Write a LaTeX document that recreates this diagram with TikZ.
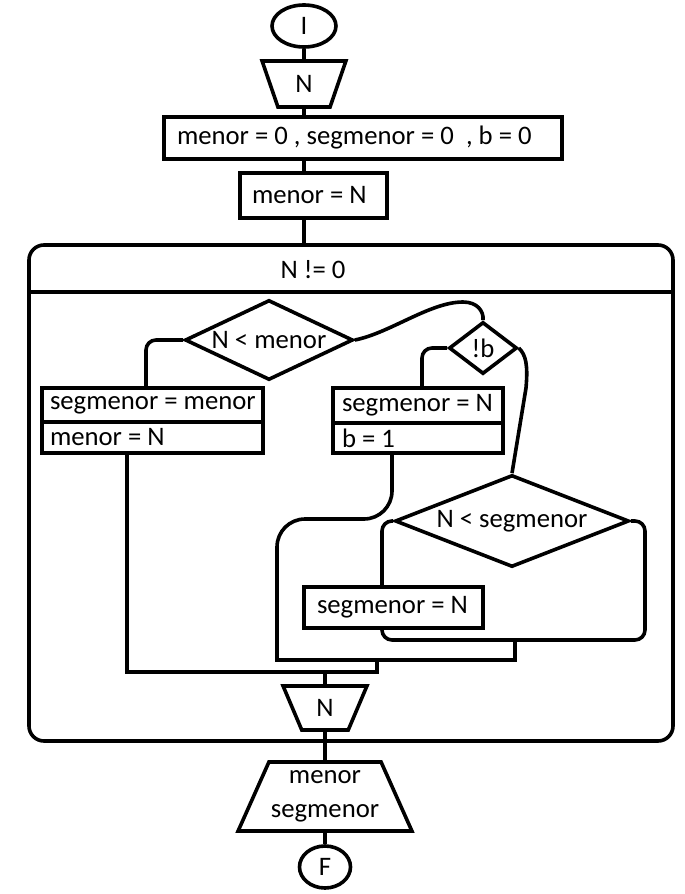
\documentclass[tikz,border=0pt]{standalone}
\usepackage{fontspec}
\setmainfont{Carlito}
\usetikzlibrary{shapes.geometric}
\newcommand{\izq}[2]{\makebox[#1][l]{#2}}
\begin{document}
\begin{tikzpicture}[x=1pt,y=-1pt,line width=3.6pt,
    every node/.style={font=\fontsize{26.7}{34}\selectfont, inner sep=0pt},
    term/.style={draw, ellipse},
    box/.style={draw, rectangle},
    cond/.style={draw, diamond},
    io/.style={draw, trapezium, trapezium stretches, align=center}]
    \useasboundingbox (0,0) rectangle (685,894);
    \node[term, minimum width=64pt, minimum height=42pt] (ini) at (304,26) {I};
    \node[io, shape border rotate=180, trapezium angle=73, minimum width=84pt, minimum height=46pt] (leeN) at (304,84) {N};
    \node[box, inner xsep=13pt, minimum height=42pt] (inic) at (363,138) {\izq{372pt}{menor = 0 , segmenor = 0 \ , b = 0}};
    \node[box, inner xsep=12pt, minimum height=45pt] (asig) at (313.5,195.5) {\izq{123pt}{menor = N}};
    \node[draw, rounded corners=15pt, minimum width=644pt, minimum height=496pt] (mientras) at (351,493) {};
    \node (cab) at (313,270) {N != 0};
    \coordinate (sep) at (351,292);
    \node[cond, aspect=2.1, minimum width=168pt, minimum height=80pt] (si1) at (269,340) {N < menor};
    \node[cond, minimum width=68pt, minimum height=52pt] (si2) at (483,348) {!b};
    \node[box, inner xsep=8pt, minimum height=34pt] (seg1) at (152.5,405) {\izq{205pt}{segmenor = menor}};
    \node[box, inner xsep=8pt, minimum height=31pt] (men1) at (152.5,437.5) {\izq{205pt}{menor = N}};
    \node[box, inner xsep=9pt, minimum height=35pt] (seg2) at (418,405.5) {\izq{152pt}{segmenor = N}};
    \node[box, inner xsep=9pt, minimum height=30pt] (bee) at (418,438) {\izq{152pt}{b = 1}};
    \node[cond, aspect=2.5, minimum width=234pt, minimum height=92pt] (si3) at (512,521) {N < segmenor};
    \node[box, inner xsep=13pt, minimum height=41pt] (seg3) at (393.5,607.5) {\izq{153pt}{segmenor = N}};
    \node[io, shape border rotate=180, trapezium angle=68, minimum width=84pt, minimum height=44pt] (leeN2) at (325,708) {N};
    \node[io, trapezium angle=60, minimum width=174pt, minimum height=69pt] (sal) at (325,796.5) {menor\\segmenor};
    \node[term, minimum width=51pt, minimum height=42pt] (fin) at (325,867) {F};
    \coordinate (col) at (304,0);
    \coordinate (j0) at (377,660);
    \coordinate (j1) at (377,672);
    \coordinate (j2) at (515,660);
    \coordinate (j3) at (515,640);
    \draw (ini) -- (leeN);
    \draw (leeN) -- (leeN |- inic.north);
    \draw (col |- inic.south) -- (col |- asig.north);
    \draw (col |- asig.south) -- (col |- mientras.north);
    \draw (sep -| mientras.west) -- (sep -| mientras.east);
    \draw[rounded corners=10pt] (si1.west) -| ([xshift=-6.5pt]seg1.north);
    \draw (si1.east) .. controls (390,333) and (430,302) .. (463,302) .. controls (477,302) and (484,311) .. (si2.north);
    \draw[rounded corners=10pt] (si2.west) -| ([xshift=4pt]seg2.north);
    \draw (si2.east) .. controls (526,355) and (528,365) .. (526,388) -- (si3.north);
    \draw[rounded corners=10pt] (si3.west) -| ([xshift=-11.5pt]seg3.north);
    \draw[rounded corners=10pt] (si3.east) -| (645,640) -| ([xshift=-11.5pt]seg3.south);
    \draw[rounded corners=28pt] ([xshift=-26pt]bee.south) |- (277,519) [sharp corners] |- (j2) -- (j3);
    \draw ([xshift=-25.5pt]men1.south) |- (j1) -- (j0);
    \draw (leeN2 |- j1) -- (leeN2);
    \draw (leeN2) -- (leeN2 |- mientras.south);
    \draw (leeN2 |- mientras.south) -- (sal);
    \draw (sal) -- (fin);
\end{tikzpicture}
\end{document}
